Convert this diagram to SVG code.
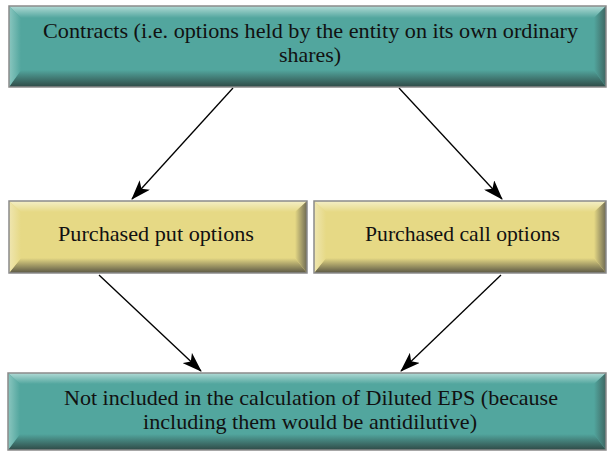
<svg xmlns="http://www.w3.org/2000/svg" width="608" height="451" viewBox="0 0 608 451">
<defs>
<style>
text{font-family:"Liberation Serif","DejaVu Serif",serif;font-size:21px;fill:#111;text-anchor:middle}
.edge{stroke:#000;stroke-width:1.3;fill:none;marker-end:url(#ah)}
.frame{fill:none;stroke:#8a8a8a;stroke-width:1.5}
</style>
<marker id="ah" viewBox="0 0 20 14" refX="19" refY="7" markerWidth="20" markerHeight="14" markerUnits="userSpaceOnUse" orient="auto">
<path d="M0,0 L20,7 L0,14 L5,7 Z" fill="#000"/>
</marker>
<linearGradient id="tT" x1="0" y1="0" x2="0" y2="1"><stop offset="0" stop-color="#b2dbd6"/><stop offset="1" stop-color="#52a69e"/></linearGradient>
<linearGradient id="tB" x1="0" y1="0" x2="0" y2="1"><stop offset="0" stop-color="#52a69e"/><stop offset="1" stop-color="#2f4a46"/></linearGradient>
<linearGradient id="tL" x1="0" y1="0" x2="1" y2="0"><stop offset="0" stop-color="#8ac6bf"/><stop offset="1" stop-color="#52a69e"/></linearGradient>
<linearGradient id="tR" x1="0" y1="0" x2="1" y2="0"><stop offset="0" stop-color="#52a69e"/><stop offset="1" stop-color="#3f6662"/></linearGradient>
<linearGradient id="yT" x1="0" y1="0" x2="0" y2="1"><stop offset="0" stop-color="#f4efc8"/><stop offset="1" stop-color="#e6d985"/></linearGradient>
<linearGradient id="yB" x1="0" y1="0" x2="0" y2="1"><stop offset="0" stop-color="#e6d985"/><stop offset="1" stop-color="#5a5744"/></linearGradient>
<linearGradient id="yL" x1="0" y1="0" x2="1" y2="0"><stop offset="0" stop-color="#efe6b0"/><stop offset="1" stop-color="#e6d985"/></linearGradient>
<linearGradient id="yR" x1="0" y1="0" x2="1" y2="0"><stop offset="0" stop-color="#e6d985"/><stop offset="1" stop-color="#6e6a52"/></linearGradient>
</defs>

<g id="connectors">
<line class="edge" x1="233" y1="88" x2="132" y2="199"/>
<line class="edge" x1="399" y1="88" x2="502" y2="199"/>
<line class="edge" x1="99" y1="275" x2="201" y2="371"/>
<line class="edge" x1="501" y1="275" x2="401" y2="371"/>
</g>

<g id="node-contracts">
<rect x="9" y="6" width="597" height="81" fill="#52a69e"/>
<polygon points="9,6 606,6 594,18 21,18" fill="url(#tT)"/>
<polygon points="9,87 606,87 594,70 21,70" fill="url(#tB)"/>
<polygon points="9,6 21,18 21,70 9,87" fill="url(#tL)"/>
<polygon points="606,6 594,18 594,70 606,87" fill="url(#tR)"/>
<rect class="frame" x="9" y="6" width="597" height="81"/>
<text x="310.5" y="38" textLength="535" lengthAdjust="spacingAndGlyphs">Contracts (i.e. options held by the entity on its own ordinary</text>
<text x="310" y="62" textLength="62" lengthAdjust="spacingAndGlyphs">shares)</text>
</g>

<g id="node-put">
<rect x="9" y="201" width="298" height="72" fill="#e6d985"/>
<polygon points="9,201 307,201 295,212 21,212" fill="url(#yT)"/>
<polygon points="9,273 307,273 295,258 21,258" fill="url(#yB)"/>
<polygon points="9,201 21,212 21,258 9,273" fill="url(#yL)"/>
<polygon points="307,201 295,212 295,258 307,273" fill="url(#yR)"/>
<rect class="frame" x="9" y="201" width="298" height="72"/>
<text x="156" y="241" textLength="196" lengthAdjust="spacingAndGlyphs">Purchased put options</text>
</g>

<g id="node-call">
<rect x="314" y="201" width="292" height="72" fill="#e6d985"/>
<polygon points="314,201 606,201 594,212 326,212" fill="url(#yT)"/>
<polygon points="314,273 606,273 594,258 326,258" fill="url(#yB)"/>
<polygon points="314,201 326,212 326,258 314,273" fill="url(#yL)"/>
<polygon points="606,201 594,212 594,258 606,273" fill="url(#yR)"/>
<rect class="frame" x="314" y="201" width="292" height="72"/>
<text x="462.5" y="241" textLength="195" lengthAdjust="spacingAndGlyphs">Purchased call options</text>
</g>

<g id="node-result">
<rect x="8" y="373" width="598" height="77" fill="#52a69e"/>
<polygon points="8,373 606,373 594,384 20,384" fill="url(#tT)"/>
<polygon points="8,450 606,450 594,434 20,434" fill="url(#tB)"/>
<polygon points="8,373 20,384 20,434 8,450" fill="url(#tL)"/>
<polygon points="606,373 594,384 594,434 606,450" fill="url(#tR)"/>
<rect class="frame" x="8" y="373" width="598" height="77"/>
<text x="311" y="405" textLength="494" lengthAdjust="spacingAndGlyphs">Not included in the calculation of Diluted EPS (because</text>
<text x="310" y="429" textLength="334" lengthAdjust="spacingAndGlyphs">including them would be antidilutive)</text>
</g>
</svg>
